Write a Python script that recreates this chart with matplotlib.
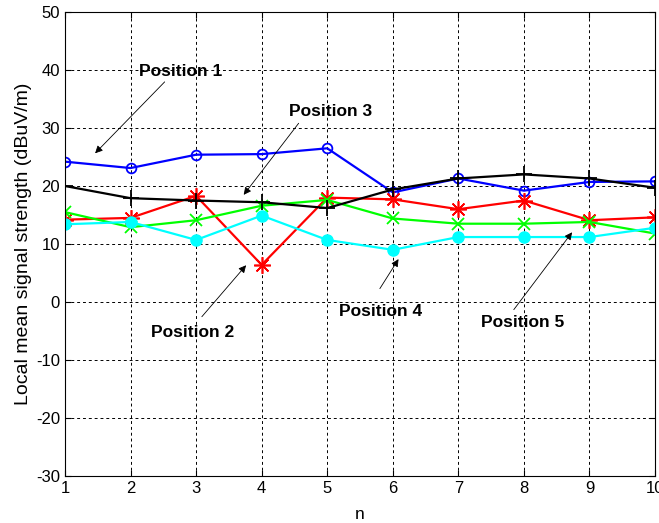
import numpy as np
import matplotlib.pyplot as plt

plt.rcParams['font.family'] = ['Liberation Sans', 'DejaVu Sans']
plt.rcParams['axes.unicode_minus'] = False

n = np.arange(1, 11)

# Local mean signal strength (dBuV/m)
pos1 = [24.2, 23.1, 25.4, 25.5, 26.5, 18.9, 21.3, 19.2, 20.7, 20.8]
pos2 = [14.2, 14.5, 18.3, 6.4, 18.0, 17.7, 16.0, 17.5, 14.1, 14.6]
pos3 = [20.0, 17.9, 17.5, 17.2, 16.2, 19.4, 21.3, 22.0, 21.3, 19.7]
pos4 = [15.5, 12.9, 14.1, 16.6, 17.6, 14.4, 13.5, 13.5, 13.8, 11.8]
pos5 = [13.4, 13.8, 10.7, 14.9, 10.7, 9.0, 11.2, 11.2, 11.2, 12.8]

# label text, text position, arrow tail, arrow head (data units)
labels = ['Position 1', 'Position 3', 'Position 2', 'Position 4', 'Position 5']
label_xy = [(2.77, 39.8), (5.05, 32.8), (2.95, -5.2), (5.81, -1.7), (7.98, -3.6)]
arrow_from = [(2.55, 38.3), (4.59, 31.2), (3.06, -2.9), (5.78, 1.9), (7.82, -1.7)]
arrow_to = [(1.43, 25.3), (3.70, 18.1), (3.79, 6.7), (6.11, 7.8), (8.76, 12.4)]

fig = plt.figure(figsize=(6.59, 5.23), dpi=100)
ax = fig.add_axes([0.0986, 0.0899, 0.8954, 0.8871])

ax.plot(n, pos1, color='blue', lw=1.6, marker='o', ms=7, mfc='none', mew=1.3)
ax.plot(n, pos2, color='red', lw=1.6, marker=(8, 2, 0), ms=12, mew=1.2)
ax.plot(n, pos4, color='#00ff00', lw=1.6, marker='x', ms=8, mew=1.3)
ax.plot(n, pos3, color='black', lw=1.6, marker='+', ms=11, mew=1.3)
ax.plot(n, pos5, color='cyan', lw=1.6, marker='o', ms=8, mfc='cyan', mec='cyan')

for txt, xy, p0, p1 in zip(labels, label_xy, arrow_from, arrow_to):
    ax.text(xy[0], xy[1], txt, ha='center', va='center', fontsize=12.5, fontweight='bold')
    ax.annotate('', xy=p1, xytext=p0,
                arrowprops=dict(arrowstyle='-|>', lw=0.6, color='black', mutation_scale=11))

ax.set_xlim(1, 10)
ax.set_ylim(-30, 50)
ax.set_xticks(n)
ax.set_yticks(np.arange(-30, 51, 10))
ax.grid(True, color='black', linestyle=(0, (3, 3)), lw=0.7)
ax.tick_params(direction='in', top=True, right=True, labelsize=12, length=4)
ax.set_xlabel('n', fontsize=12.5, labelpad=8)
ax.set_ylabel('Local mean signal strength (dBuV/m)', fontsize=14, labelpad=3)

fig.savefig('out.png', dpi=100)
